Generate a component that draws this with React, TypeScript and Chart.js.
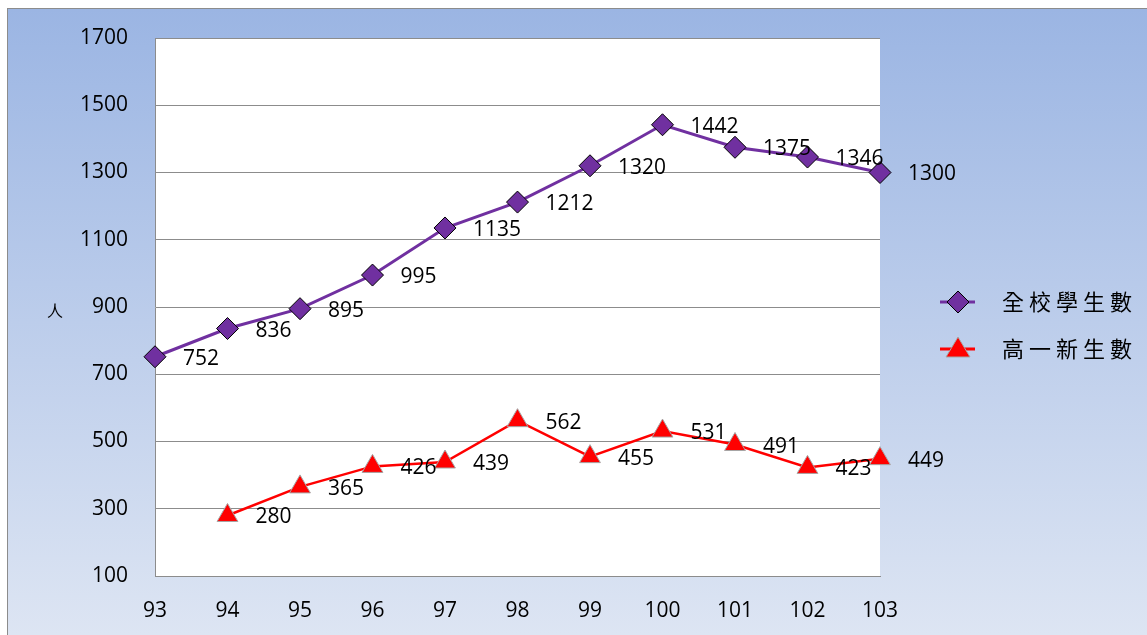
import React, { useEffect, useRef } from "react";
import { Chart, registerables } from "chart.js";

Chart.register(...registerables);

const years = ["93", "94", "95", "96", "97", "98", "99", "100", "101", "102", "103"];
const allStudents = [752, 836, 895, 995, 1135, 1212, 1320, 1442, 1375, 1346, 1300];
const freshmen = [null, 280, 365, 426, 439, 562, 455, 531, 491, 423, 449];
const seriesNames = ["全校學生數", "高一新生數"];
const yTitle = "人";

const FONT = "'Open Sans', 'Liberation Sans', sans-serif";
const CJK = "'Noto Sans CJK TC', 'Noto Sans CJK SC', sans-serif";

const customPlugin = {
  id: "custom",
  beforeDraw(chart: any) {
    const { ctx, chartArea } = chart;
    ctx.save();
    ctx.fillStyle = "#ffffff";
    ctx.fillRect(chartArea.left, chartArea.top, chartArea.right - chartArea.left, chartArea.bottom - chartArea.top);
    ctx.restore();
  },
  afterDatasetsDraw(chart: any) {
    const { ctx } = chart;
    ctx.save();
    ctx.font = `21px ${FONT}`;
    ctx.fillStyle = "#000";
    ctx.textAlign = "left";
    ctx.textBaseline = "middle";
    chart.data.datasets.forEach((ds: any, i: number) => {
      const meta = chart.getDatasetMeta(i);
      meta.data.forEach((pt: any, j: number) => {
        const v = ds.data[j];
        if (v === null || v === undefined) return;
        ctx.fillText(String(v), pt.x + 28, pt.y + 2);
      });
    });
    // y title
    ctx.font = `16px ${CJK}`;
    ctx.textAlign = "center";
    ctx.fillText(yTitle, 47, 302);
    // legend
    const items = [
      { y: 293, color: "#7030A0", style: "rectRot", border: "#000" },
      { y: 340, color: "#FF0000", style: "triangle", border: "#A6A6A6" },
    ];
    items.forEach((it, k) => {
      ctx.strokeStyle = it.color;
      ctx.lineWidth = 3;
      ctx.beginPath();
      ctx.moveTo(932, it.y);
      ctx.lineTo(967, it.y);
      ctx.stroke();
      ctx.fillStyle = it.color;
      ctx.strokeStyle = it.border;
      ctx.lineWidth = 1;
      if (it.style === "rectRot") {
        ctx.beginPath();
        ctx.moveTo(950, it.y - 11);
        ctx.lineTo(961, it.y);
        ctx.lineTo(950, it.y + 11);
        ctx.lineTo(939, it.y);
        ctx.closePath();
        ctx.fill();
        ctx.stroke();
      } else {
        ctx.beginPath();
        ctx.moveTo(950, it.y - 12);
        ctx.lineTo(962, it.y + 8);
        ctx.lineTo(938, it.y + 8);
        ctx.closePath();
        ctx.fill();
        ctx.stroke();
      }
      ctx.fillStyle = "#000";
      ctx.font = `22px ${CJK}`;
      ctx.textAlign = "left";
      (ctx as any).letterSpacing = "5px";
      ctx.fillText(seriesNames[k], 994, it.y);
      (ctx as any).letterSpacing = "0px";
    });
    ctx.restore();
  },
};

export default function App() {
  const ref = useRef<HTMLCanvasElement>(null);
  useEffect(() => {
    if (!ref.current) return;
    const chart = new Chart(ref.current, {
      type: "line",
      data: {
        labels: years,
        datasets: [
          {
            label: seriesNames[0],
            data: allStudents,
            borderColor: "#7030A0",
            backgroundColor: "#7030A0",
            borderWidth: 3,
            pointStyle: "rectRot",
            pointRadius: 11,
            pointBorderColor: "#000",
            pointBorderWidth: 1,
            pointBackgroundColor: "#7030A0",
            tension: 0,
          },
          {
            label: seriesNames[1],
            data: freshmen,
            borderColor: "#FF0000",
            backgroundColor: "#FF0000",
            borderWidth: 2.5,
            pointStyle: "triangle",
            pointRadius: 12,
            pointBorderColor: "#A6A6A6",
            pointBorderWidth: 1,
            pointBackgroundColor: "#FF0000",
            tension: 0,
          },
        ],
      },
      options: {
        animation: false,
        responsive: true,
        maintainAspectRatio: false,
        layout: { padding: { left: 0, top: 29, right: 267, bottom: 0 } },
        plugins: { legend: { display: false }, tooltip: { enabled: false } },
        scales: {
          x: {
            type: "category",
            offset: false,
            grid: { display: false, drawTicks: false },
            border: { display: true, color: "#8C8C8C", width: 1 },
            ticks: { color: "#000", font: { family: FONT, size: 21 }, padding: 22, maxRotation: 0 },
            afterFit: (s: any) => {
              s.height = 59;
              s.paddingTop = 0;
              s.paddingBottom = 0;
            },
          },
          y: {
            min: 100,
            max: 1700,
            ticks: {
              stepSize: 200,
              color: "#000",
              font: { family: FONT, size: 21 },
              padding: 27,
              callback: (v: any) => String(v),
            },
            grid: { color: "#8C8C8C", lineWidth: 1, drawTicks: false },
            border: { display: true, color: "#8C8C8C", width: 1 },
            afterFit: (s: any) => {
              s.width = 147;
              s.paddingTop = 0;
              s.paddingBottom = 0;
            },
          },
        },
      },
      plugins: [customPlugin],
    });
    return () => chart.destroy();
  }, []);
  return (
    <div
      style={{
        position: "absolute",
        left: 7,
        top: 8,
        right: 0,
        bottom: 0,
        borderTop: "1px solid #8C8C8C",
        borderLeft: "1px solid #8C8C8C",
        background: "linear-gradient(to bottom, #9bb5e3 0%, #bccdeb 50%, #dde5f3 100%)",
        overflow: "hidden",
      }}
    >
      <div style={{ position: "relative", width: 1139, height: 626 }}>
        <canvas ref={ref} />
      </div>
    </div>
  );
}
